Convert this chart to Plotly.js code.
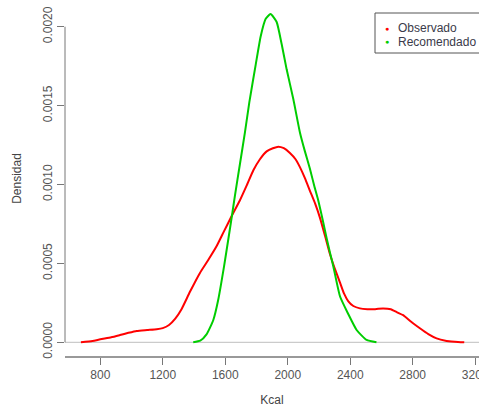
<!DOCTYPE html>
<html>
<head>
<meta charset="utf-8">
<script src="https://cdn.plot.ly/plotly-3.0.1.min.js"></script>
<style>html,body{margin:0;padding:0;background:#fff;}#chart{width:479px;height:407px;}</style>
</head>
<body>
<div id="chart"></div>
<script>
// Observado (red) density curve
const obsKcal = [676, 750, 800, 870, 926, 980, 1033, 1100, 1161, 1200, 1240, 1280, 1320, 1374, 1438, 1490, 1545, 1590, 1641, 1694, 1740, 1780, 1822, 1865, 1905, 1940, 1975, 2014, 2050, 2078, 2110, 2142, 2175, 2206, 2240, 2270, 2300, 2334, 2360, 2388, 2420, 2462, 2510, 2560, 2610, 2660, 2700, 2739, 2790, 2846, 2900, 2953, 3010, 3070, 3130];
const obsDens = [0, 0.000008, 0.000019, 0.000032, 0.000046, 0.00006, 0.000072, 0.000078, 0.000083, 0.00009, 0.00011, 0.00015, 0.00021, 0.00032, 0.00044, 0.00052, 0.00061, 0.0007, 0.0008, 0.0009, 0.001, 0.00109, 0.00116, 0.00121, 0.00123, 0.00124, 0.00123, 0.0012, 0.00116, 0.00111, 0.00104, 0.00096, 0.00088, 0.00079, 0.00067, 0.00056, 0.00047, 0.00038, 0.00031, 0.00026, 0.00023, 0.000215, 0.00021, 0.00021, 0.000215, 0.00021, 0.00019, 0.000172, 0.00013, 0.000089, 0.000052, 0.000025, 0.00001, 0.000004, 0];

// Recomendado (green) density curve
const recKcal = [1395, 1440, 1480, 1523, 1555, 1592, 1619, 1641, 1662, 1694, 1726, 1754, 1795, 1827, 1859, 1890, 1929, 1961, 1993, 2036, 2078, 2110, 2142, 2170, 2195, 2225, 2249, 2270, 2292, 2335, 2385, 2441, 2505, 2568];
const recDens = [0, 0.00001, 0.00005, 0.00014, 0.00027, 0.00048, 0.00065, 0.00079, 0.00093, 0.00113, 0.00133, 0.00152, 0.00176, 0.00194, 0.00205, 0.00208, 0.00203, 0.00189, 0.00173, 0.00154, 0.00133, 0.00121, 0.0011, 0.00099, 0.0009, 0.00077, 0.00066, 0.00057, 0.00048, 0.00029, 0.000184, 0.000078, 0.000015, 0];

const seriesNames = ["Observado", "Recomendado"];
const seriesColors = ["#FF0000", "#00CD00"];
const xTicks = [800, 1200, 1600, 2000, 2400, 2800, 3200];
const yTicks = [0, 0.0005, 0.001, 0.0015, 0.002];
const yTickText = ["0.0000", "0.0005", "0.0010", "0.0015", "0.0020"];

const W = 479, H = 407;
const M = {l: 65, r: 0, t: 1, b: 51};
const pw = W - M.l - M.r, ph = H - M.t - M.b;
const px = v => (v - M.l) / pw;
const py = v => (H - M.b - v) / ph;

const traces = [
  {x: obsKcal, y: obsDens, name: seriesNames[0], type: 'scatter', mode: 'lines',
   line: {color: seriesColors[0], width: 2, shape: 'spline', smoothing: 0.5}, showlegend: false},
  {x: recKcal, y: recDens, name: seriesNames[1], type: 'scatter', mode: 'lines',
   line: {color: seriesColors[1], width: 2, shape: 'spline', smoothing: 0.5}, showlegend: false}
];

const font = {family: 'Liberation Sans, Arial, sans-serif', size: 12, color: '#555'};

const layout = {
  width: W, height: H,
  margin: M,
  paper_bgcolor: '#fff', plot_bgcolor: '#fff',
  showlegend: false,
  font: font,
  xaxis: {
    range: [574, 3224.5], tickvals: xTicks, ticktext: xTicks.map(String),
    showgrid: false, zeroline: false, showline: true, linecolor: '#999', linewidth: 1.5,
    ticks: 'outside', ticklen: 7, tickcolor: '#777', tickwidth: 1,
    tickfont: font, ticklabeloverflow: 'allow',
    title: {text: 'Kcal', font: {family: font.family, size: 12, color: '#444'}, standoff: 16}
  },
  yaxis: {
    range: [-0.0000868, 0.002163], tickvals: yTicks, ticktext: yTickText,
    showgrid: false, zeroline: false, showline: false,
    ticks: 'outside', ticklen: 7, tickcolor: '#777', tickwidth: 1,
    tickangle: -90, tickfont: font,
    title: {text: 'Densidad', font: {family: font.family, size: 12, color: '#444'}, standoff: 17}
  },
  shapes: [
    {type: 'line', xref: 'paper', yref: 'y', x0: 0, x1: 1, y0: 0, y1: 0, line: {color: '#BEBEBE', width: 1}, layer: 'below'},
    {type: 'line', xref: 'paper', yref: 'y', x0: 0, x1: 0, y0: yTicks[0], y1: yTicks[yTicks.length - 1], line: {color: '#777', width: 1}},
    {type: 'rect', xref: 'paper', yref: 'paper', x0: px(375), x1: px(482), y0: py(53), y1: py(13), line: {color: '#555', width: 1}, fillcolor: 'rgba(0,0,0,0)'}
  ],
  annotations: [
    {xref: 'paper', yref: 'paper', x: px(387), y: py(28), text: '●', showarrow: false, xanchor: 'center', yanchor: 'middle', font: {size: 7, color: seriesColors[0]}},
    {xref: 'paper', yref: 'paper', x: px(387), y: py(42), text: '●', showarrow: false, xanchor: 'center', yanchor: 'middle', font: {size: 7, color: seriesColors[1]}},
    {xref: 'paper', yref: 'paper', x: px(396), y: py(28), text: seriesNames[0], showarrow: false, xanchor: 'left', yanchor: 'middle', font: {family: font.family, size: 12, color: '#3a3a4a'}},
    {xref: 'paper', yref: 'paper', x: px(396), y: py(42), text: seriesNames[1], showarrow: false, xanchor: 'left', yanchor: 'middle', font: {family: font.family, size: 12, color: '#3a3a4a'}}
  ]
};

Plotly.newPlot('chart', traces, layout, {displayModeBar: false, staticPlot: true});
</script>
</body>
</html>
